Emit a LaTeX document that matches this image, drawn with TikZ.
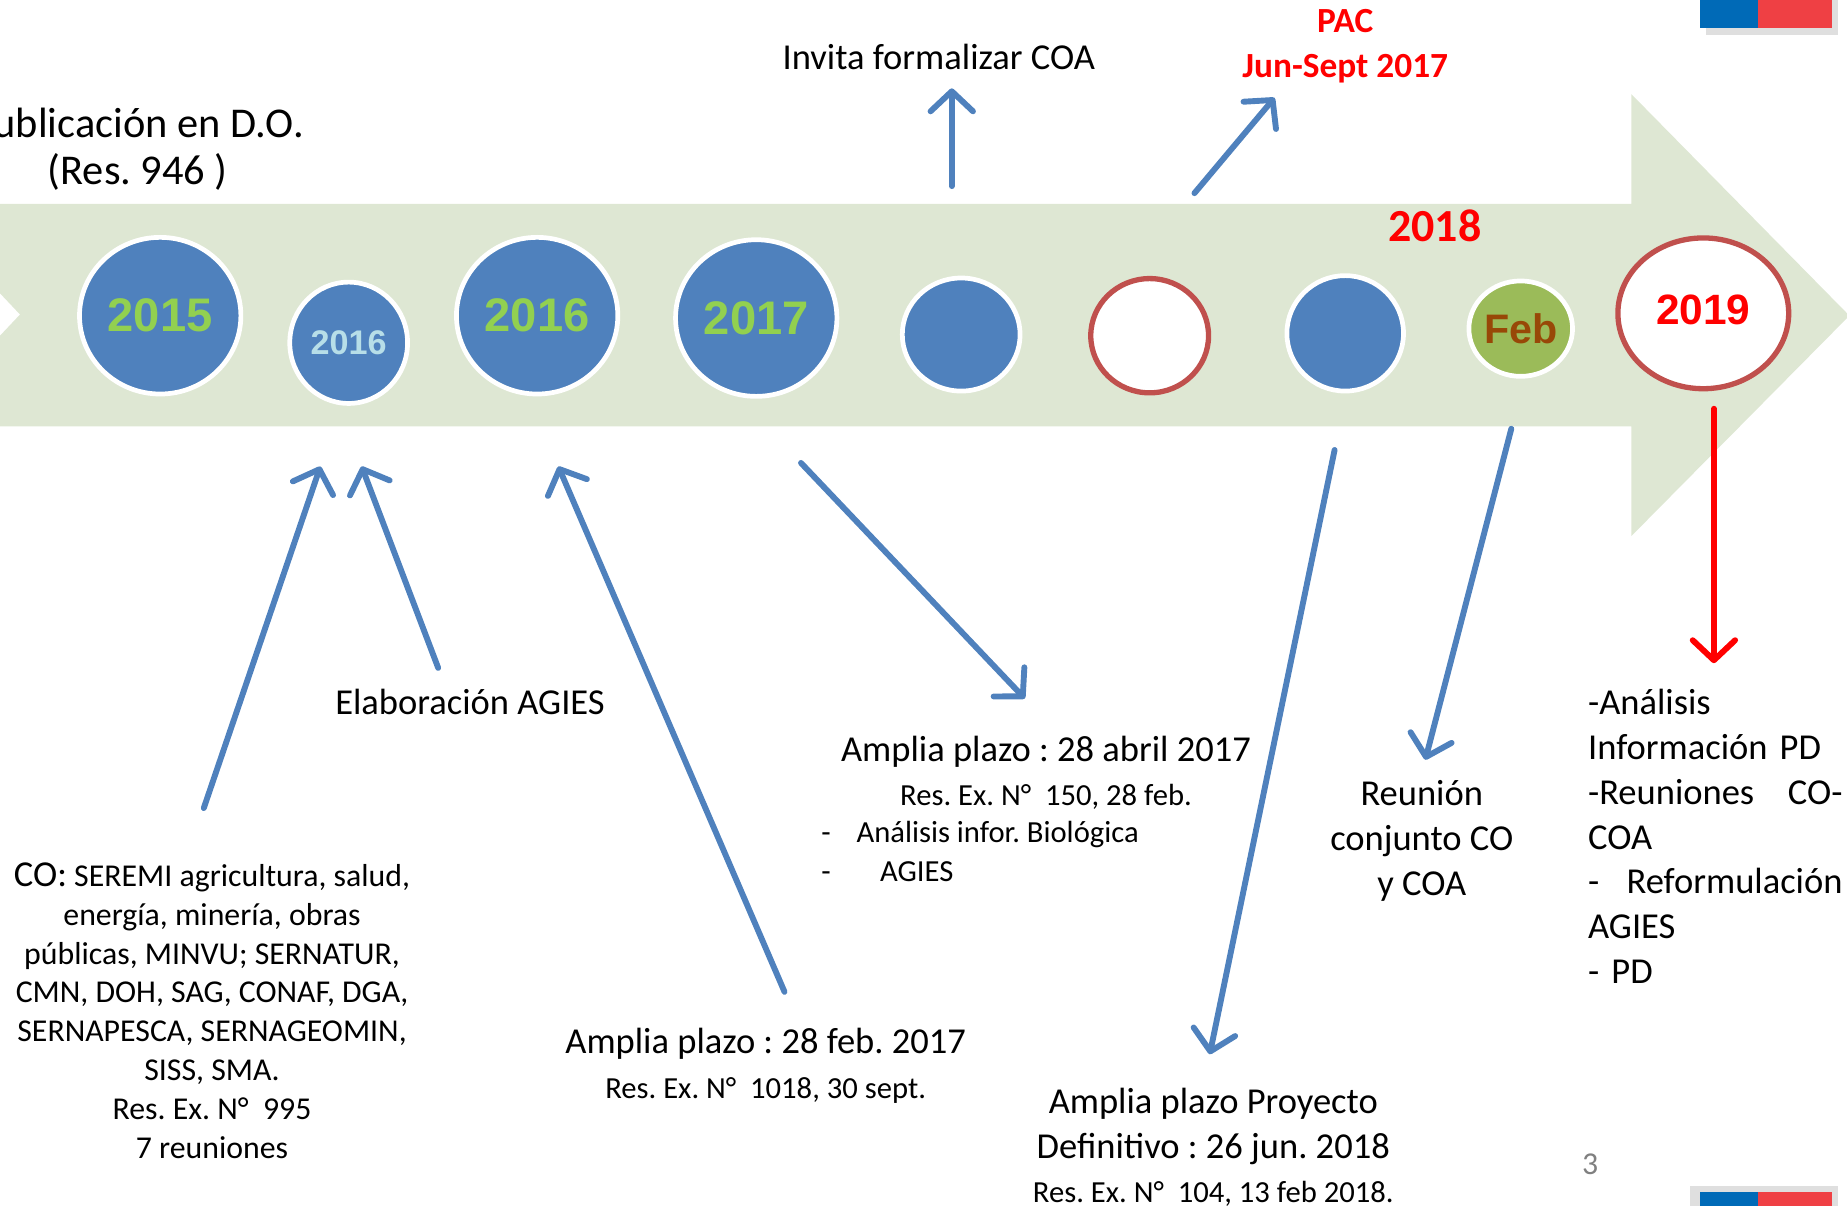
\documentclass[tikz,border=0pt]{standalone}
\usepackage{fontspec}
\setmainfont{Carlito}
\newfontfamily\arialfont{Liberation Sans}
\usetikzlibrary{arrows.meta,shapes.geometric}
\frenchspacing

\definecolor{bandgreen}{RGB}{222,231,211}
\definecolor{dotblue}{RGB}{79,129,189}
\definecolor{yeargreen}{RGB}{146,208,80}
\definecolor{paleblue}{RGB}{183,222,232}
\definecolor{ringred}{RGB}{192,80,77}
\definecolor{febgreen}{RGB}{155,187,89}
\definecolor{febbrown}{RGB}{152,72,7}
\definecolor{flagblue}{RGB}{0,106,183}
\definecolor{flagred}{RGB}{239,64,68}

\tikzset{
  yeardot/.style={ellipse, draw=white, line width=4pt, fill=dotblue, inner sep=0pt,
    font=\arialfont\bfseries\fontsize{#1}{#1}\selectfont},
  yearring/.style={ellipse, draw=ringred, line width=4.5pt, fill=white, inner sep=0pt,
    font=\arialfont\bfseries\fontsize{#1}{#1}\selectfont},
  pointer/.style={draw=dotblue, line width=5pt, line cap=round,
    -{Straight Barb[length=17pt,width=36pt,line cap=round,line join=round]}},
  redpointer/.style={pointer, draw=red},
  eventtext/.style={align=center, inner sep=0pt, font=\fontsize{31}{38}\selectfont},
}

\begin{document}
\begin{tikzpicture}[x=1pt,y=-1pt]
        % Fix the page
        \useasboundingbox (0,0) rectangle (1568,1024);
        \clip (0,0) rectangle (1568,1024);
        % Draw timeline arrow
        \fill[bandgreen] (0,173) -- (1385,173) -- (1385,80) -- (1570,268) -- (1385,455)
            -- (1385,362) -- (0,362) -- (0,285) -- (17,267) -- (0,249) -- cycle;
        % Draw corner flags
        \fill[gray!25] (1448,0) rectangle (1560,30);
        \fill[flagblue] (1443,0) rectangle (1492,24);
        \fill[flagred] (1492,0) rectangle (1555,24);
        \fill[gray!25] (1435,1007) rectangle (1560,1024);
        \fill[flagblue] (1443,1012) rectangle (1492,1024);
        \fill[flagred] (1492,1012) rectangle (1555,1024);
        % Draw year circles
        \node[yeardot=40, minimum width=137pt, minimum height=133pt, text=yeargreen] (y2015) at (136,268) {2015};
        \node[yeardot=29, minimum width=100pt, minimum height=103pt, text=paleblue] (y2016a) at (296,291) {2016};
        \node[yeardot=40, minimum width=137pt, minimum height=133pt, text=yeargreen] (y2016b) at (456,268) {2016};
        \node[yeardot=40, minimum width=137pt, minimum height=133pt, text=yeargreen] (y2017) at (642,270) {2017};
        \node[yeardot=10, minimum width=100pt, minimum height=96pt] (blankA) at (816,284) {};
        \node[yearring=10, minimum width=100pt, minimum height=97pt] (ringA) at (976,285) {};
        \node[yeardot=10, minimum width=99pt, minimum height=98pt] (blankB) at (1142,283) {};
        \node[yeardot=35, fill=febgreen, minimum width=86pt, minimum height=81pt, text=febbrown] (feb) at (1291,279) {Feb};
        \node[yearring=36, minimum width=145pt, minimum height=128pt, text=red] (y2019) at (1446,266) {\raisebox{6pt}{2019}};
        % Draw upper texts
        \node[eventtext, font=\fontsize{36}{40}\selectfont] (publica) at (117,127) {Publicación en D.O.\\(Res. 946 )};
        \node[eventtext] (invita) at (797,48) {Invita formalizar COA};
        \node[eventtext, text=red, font=\bfseries\fontsize{30}{38}\selectfont] (pac) at (1142,39) {PAC\\Jun-Sept 2017};
        \node[eventtext, text=red, font=\bfseries\fontsize{39}{40}\selectfont] (year2018) at (1218,192) {2018};
        % Draw lower texts
        \node[eventtext] (agies) at (399,596) {Elaboración AGIES};
        \node[eventtext, font=\fontsize{27}{33}\selectfont] (comite) at (180,858) {{\fontsize{31}{33}\selectfont CO:} SEREMI agricultura, salud,\\energía, minería, obras\\públicas, MINVU; SERNATUR,\\CMN, DOH, SAG, CONAF, DGA,\\SERNAPESCA, SERNAGEOMIN,\\SISS, SMA.\\Res. Ex. N°\ \ 995\\7 reuniones};
        \node[eventtext] (plazoFeb) at (650,905) {Amplia plazo : 28 feb. 2017\\{\fontsize{26}{37}\selectfont Res. Ex. N°\ \ 1018, 30 sept.}};
        \node[eventtext] (plazoAbril) at (888,656) {Amplia plazo : 28 abril 2017\\{\fontsize{26}{37}\selectfont Res. Ex. N°\ \ 150, 28 feb.}};
        \node[eventtext, align=left, anchor=west, font=\fontsize{26}{33}\selectfont] (plazoLista) at (697,723) {-\hspace{22pt}Análisis infor. Biológica\\-\hspace{42pt}AGIES};
        \node[eventtext] (reunion) at (1207,714) {Reunión\\conjunto CO\\y COA};
        \node[eventtext] (plazoPD) at (1030,974) {Amplia plazo Proyecto\\Definitivo : 26 jun. 2018\\{\fontsize{26}{37}\selectfont Res. Ex. N°\ \ 104, 13 feb 2018.}};
        \node[eventtext, align=left, anchor=west, text width=216pt] (analisis) at (1348,710) {-Análisis\\Información PD\\-Reuniones\hskip 0pt plus 1fill CO-\\COA\\-\hskip 0pt plus 1fill Reformulación\\AGIES\\- PD};
        \node[text=gray, inner sep=0pt, font=\fontsize{27}{27}\selectfont] (pagenum) at (1350,988) {3};
        % Arrow ends
        \coordinate (invitaFrom) at (808,158);
        \coordinate (invitaTo) at (808,75);
        \coordinate (pacFrom) at (1014,164);
        \coordinate (pacTo) at (1082,83);
        \coordinate (comiteFrom) at (173,686);
        \coordinate (comiteTo) at (272,396);
        \coordinate (agiesFrom) at (372,567);
        \coordinate (agiesTo) at (307,396);
        \coordinate (plazoFebFrom) at (666,842);
        \coordinate (plazoFebTo) at (474,396);
        \coordinate (plazoAbrilFrom) at (680,393);
        \coordinate (plazoAbrilTo) at (870,593);
        \coordinate (plazoPDFrom) at (1133,382);
        \coordinate (plazoPDTo) at (1027,895);
        \coordinate (reunionFrom) at (1283,364);
        \coordinate (reunionTo) at (1210,645);
        \coordinate (analisisFrom) at (1455,347);
        \coordinate (analisisTo) at (1455,563);
        % Draw pointers
        \draw[pointer] (invitaFrom) -- (invitaTo);
        \draw[pointer] (pacFrom) -- (pacTo);
        \draw[pointer] (comiteFrom) -- (comiteTo);
        \draw[pointer] (agiesFrom) -- (agiesTo);
        \draw[pointer] (plazoFebFrom) -- (plazoFebTo);
        \draw[pointer] (plazoAbrilFrom) -- (plazoAbrilTo);
        \draw[pointer] (plazoPDFrom) -- (plazoPDTo);
        \draw[pointer] (reunionFrom) -- (reunionTo);
        \draw[redpointer] (analisisFrom) -- (analisisTo);
    \end{tikzpicture}
\end{document}
